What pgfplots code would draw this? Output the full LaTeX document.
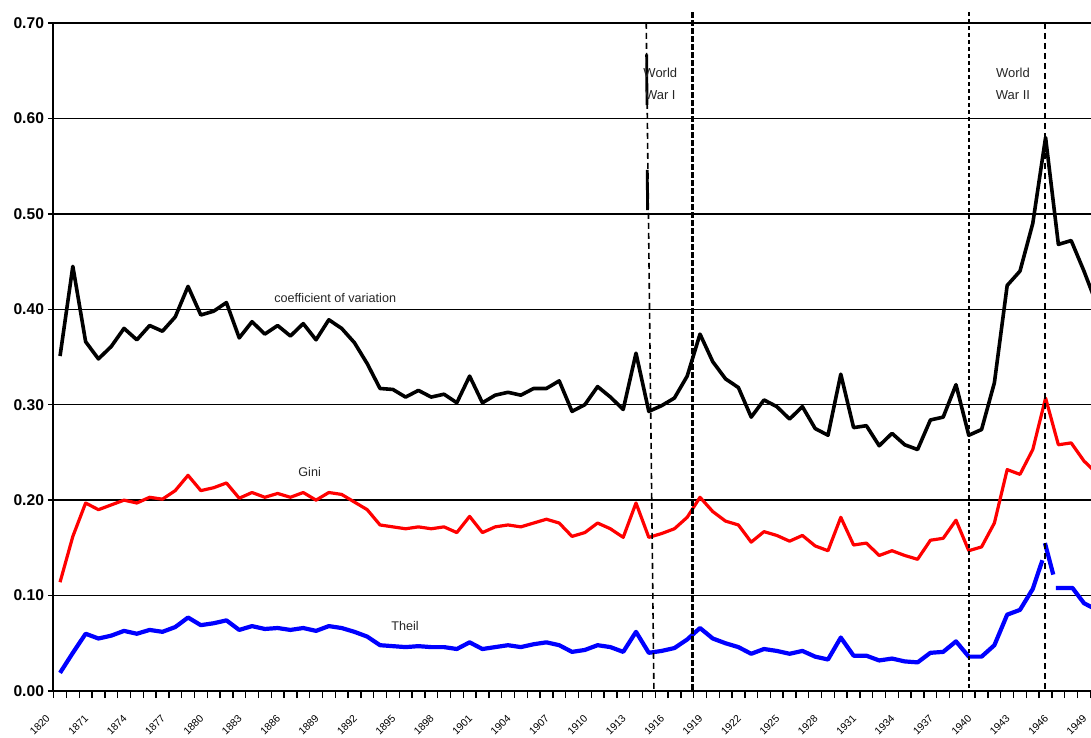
\documentclass[border=0pt]{standalone}
\usepackage{fontspec}
\setmainfont{Liberation Sans}
\usepackage{pgfplots}
\pgfplotsset{compat=1.18}

\begin{document}
\begin{tikzpicture}
\begin{axis}[
    at={(0,0)}, anchor=south west,
    scale only axis, width=525.08pt, height=334pt,
    xmin=-0.55, xmax=81.5, ymin=0, ymax=0.7,
    axis lines*=left,
    axis line style={black, line width=0.8pt},
    xtick={0,3,...,81},
    xticklabels={1820,1871,1874,1877,1880,1883,1886,1889,1892,1895,1898,1901,1904,1907,1910,1913,1916,1919,1922,1925,1928,1931,1934,1937,1940,1943,1946,1949},
    minor xtick={-0.5,0.5,...,81.5},
    ytick={0,0.1,...,0.7},
    ymajorgrids,
    major grid style={black, line width=0.7pt},
    tick align=outside,
    major x tick style={draw=none},
    minor x tick style={black, line width=0.7pt},
    major y tick style={black, line width=0.7pt},
    minor tick length=3.5pt, major tick length=2.5pt,
    xticklabel style={xshift=-7.3pt, yshift=-8pt, rotate=45, anchor=north east, font=\fontsize{5.2}{6}\selectfont, inner sep=0.5pt},
    yticklabel style={font=\fontsize{7.8}{9}\selectfont\bfseries, xshift=1.5pt},
    /pgf/number format/.cd, fixed, fixed zerofill, precision=2, assume math mode=true,
    /pgfplots/.cd,
    clip mode=individual,
    unbounded coords=jump,
]
% coefficient of variation
\addplot[black, line width=1.8pt, line join=round] coordinates {
(0,0.351) (1,0.445) (2,0.366) (3,0.348) (4,0.361) (5,0.380) (6,0.368) (7,0.383) (8,0.377) (9,0.392)
(10,0.424) (11,0.394) (12,0.398) (13,0.407) (14,0.370) (15,0.387) (16,0.374) (17,0.383) (18,0.372) (19,0.385)
(20,0.368) (21,0.389) (22,0.380) (23,0.365) (24,0.343) (25,0.317) (26,0.316) (27,0.308) (28,0.315) (29,0.308)
(30,0.311) (31,0.302) (32,0.330) (33,0.302) (34,0.310) (35,0.313) (36,0.310) (37,0.317) (38,0.317) (39,0.325)
(40,0.293) (41,0.300) (42,0.319) (43,0.308) (44,0.295) (45,0.354) (46,0.293) (47,0.299) (48,0.307) (49,0.330)
(50,0.374) (51,0.345) (52,0.327) (53,0.318) (54,0.287) (55,0.305) (56,0.298) (57,0.285) (58,0.298) (59,0.275)
(60,0.268) (61,0.332) (62,0.276) (63,0.278) (64,0.257) (65,0.270) (66,0.258) (67,0.253) (68,0.284) (69,0.287)
(70,0.321) (71,0.268) (72,0.274) (73,0.323) (74,0.425) (75,0.440) (76,0.490) (77,0.580) (78,0.468) (79,0.472)
(80,0.440) (81,0.405)
};
% Gini
\addplot[red, line width=1.6pt, line join=round] coordinates {
(0,0.114) (1,0.162) (2,0.197) (3,0.190) (4,0.195) (5,0.200) (6,0.197) (7,0.203) (8,0.201) (9,0.210)
(10,0.226) (11,0.210) (12,0.213) (13,0.218) (14,0.202) (15,0.208) (16,0.203) (17,0.207) (18,0.203) (19,0.208)
(20,0.200) (21,0.208) (22,0.206) (23,0.198) (24,0.190) (25,0.174) (26,0.172) (27,0.170) (28,0.172) (29,0.170)
(30,0.172) (31,0.166) (32,0.183) (33,0.166) (34,0.172) (35,0.174) (36,0.172) (37,0.176) (38,0.180) (39,0.176)
(40,0.162) (41,0.166) (42,0.176) (43,0.170) (44,0.161) (45,0.197) (46,0.161) (47,0.165) (48,0.170) (49,0.182)
(50,0.203) (51,0.188) (52,0.178) (53,0.174) (54,0.156) (55,0.167) (56,0.163) (57,0.157) (58,0.163) (59,0.152)
(60,0.147) (61,0.182) (62,0.153) (63,0.155) (64,0.142) (65,0.147) (66,0.142) (67,0.138) (68,0.158) (69,0.160)
(70,0.179) (71,0.147) (72,0.151) (73,0.176) (74,0.232) (75,0.227) (76,0.253) (77,0.307) (78,0.258) (79,0.260)
(80,0.241) (81,0.228)
};
% Theil
\addplot[blue, line width=2.1pt, line join=round] coordinates {
(0,0.019) (1,0.040) (2,0.060) (3,0.055) (4,0.058) (5,0.063) (6,0.060) (7,0.064) (8,0.062) (9,0.067)
(10,0.077) (11,0.069) (12,0.071) (13,0.074) (14,0.064) (15,0.068) (16,0.065) (17,0.066) (18,0.064) (19,0.066)
(20,0.063) (21,0.068) (22,0.066) (23,0.062) (24,0.057) (25,0.048) (26,0.047) (27,0.046) (28,0.047) (29,0.046)
(30,0.046) (31,0.044) (32,0.051) (33,0.044) (34,0.046) (35,0.048) (36,0.046) (37,0.049) (38,0.051) (39,0.048)
(40,0.041) (41,0.043) (42,0.048) (43,0.046) (44,0.041) (45,0.062) (46,0.040) (47,0.042) (48,0.045) (49,0.054)
(50,0.066) (51,0.055) (52,0.050) (53,0.046) (54,0.039) (55,0.044) (56,0.042) (57,0.039) (58,0.042) (59,0.036)
(60,0.033) (61,0.056) (62,0.037) (63,0.037) (64,0.032) (65,0.034) (66,0.031) (67,0.030) (68,0.040) (69,0.041)
(70,0.052) (71,0.036) (72,0.036) (73,0.048) (74,0.080) (75,0.085) (76,0.107) (76.75,0.137) (76.8,nan)
(76.95,0.155) (77.6,0.122) (77.7,nan) (77.8,0.108) (79.1,0.108) (80,0.092) (81,0.085)
};
% war markers
\draw[black, line width=0.8pt, dash pattern=on 3pt off 2pt] (axis cs:45.8,0.70) -- (axis cs:46.4,0);
\draw[black, line width=1.4pt] (axis cs:45.83,0.667) -- (axis cs:45.86,0.614);
\draw[black, line width=1.4pt] (axis cs:45.88,0.546) -- (axis cs:45.9,0.504);
\draw[black, line width=1.5pt, dash pattern=on 3pt off 1pt] (axis cs:49.45,0.7115) -- (axis cs:49.45,0);
\draw[black, line width=0.8pt, dash pattern=on 2pt off 1.5pt] (axis cs:71.0,0.7115) -- (axis cs:71.0,0);
\draw[black, line width=0.8pt, dash pattern=on 3pt off 2pt] (axis cs:76.95,0.70) -- (axis cs:76.95,0);
% labels
\node[font=\fontsize{6.3}{7.5}\selectfont, text=black!85] at (axis cs:21.5,0.412) {coefficient of variation};
\node[font=\fontsize{6.3}{7.5}\selectfont, text=black!85] at (axis cs:19.5,0.2296) {Gini};
\node[font=\fontsize{6.3}{7.5}\selectfont, text=black!85] at (axis cs:26.95,0.068) {Theil};
\node[font=\fontsize{6.5}{11}\selectfont, text=black!85, align=center] at (axis cs:46.9,0.636) {World\\War I};
\node[font=\fontsize{6.5}{11}\selectfont, text=black!85, align=center] at (axis cs:74.45,0.636) {World\\War II};
\end{axis}
\pgfresetboundingbox
\path (-26.5pt,-23.5pt) rectangle (519pt,345.5pt);
\end{tikzpicture}
\end{document}
